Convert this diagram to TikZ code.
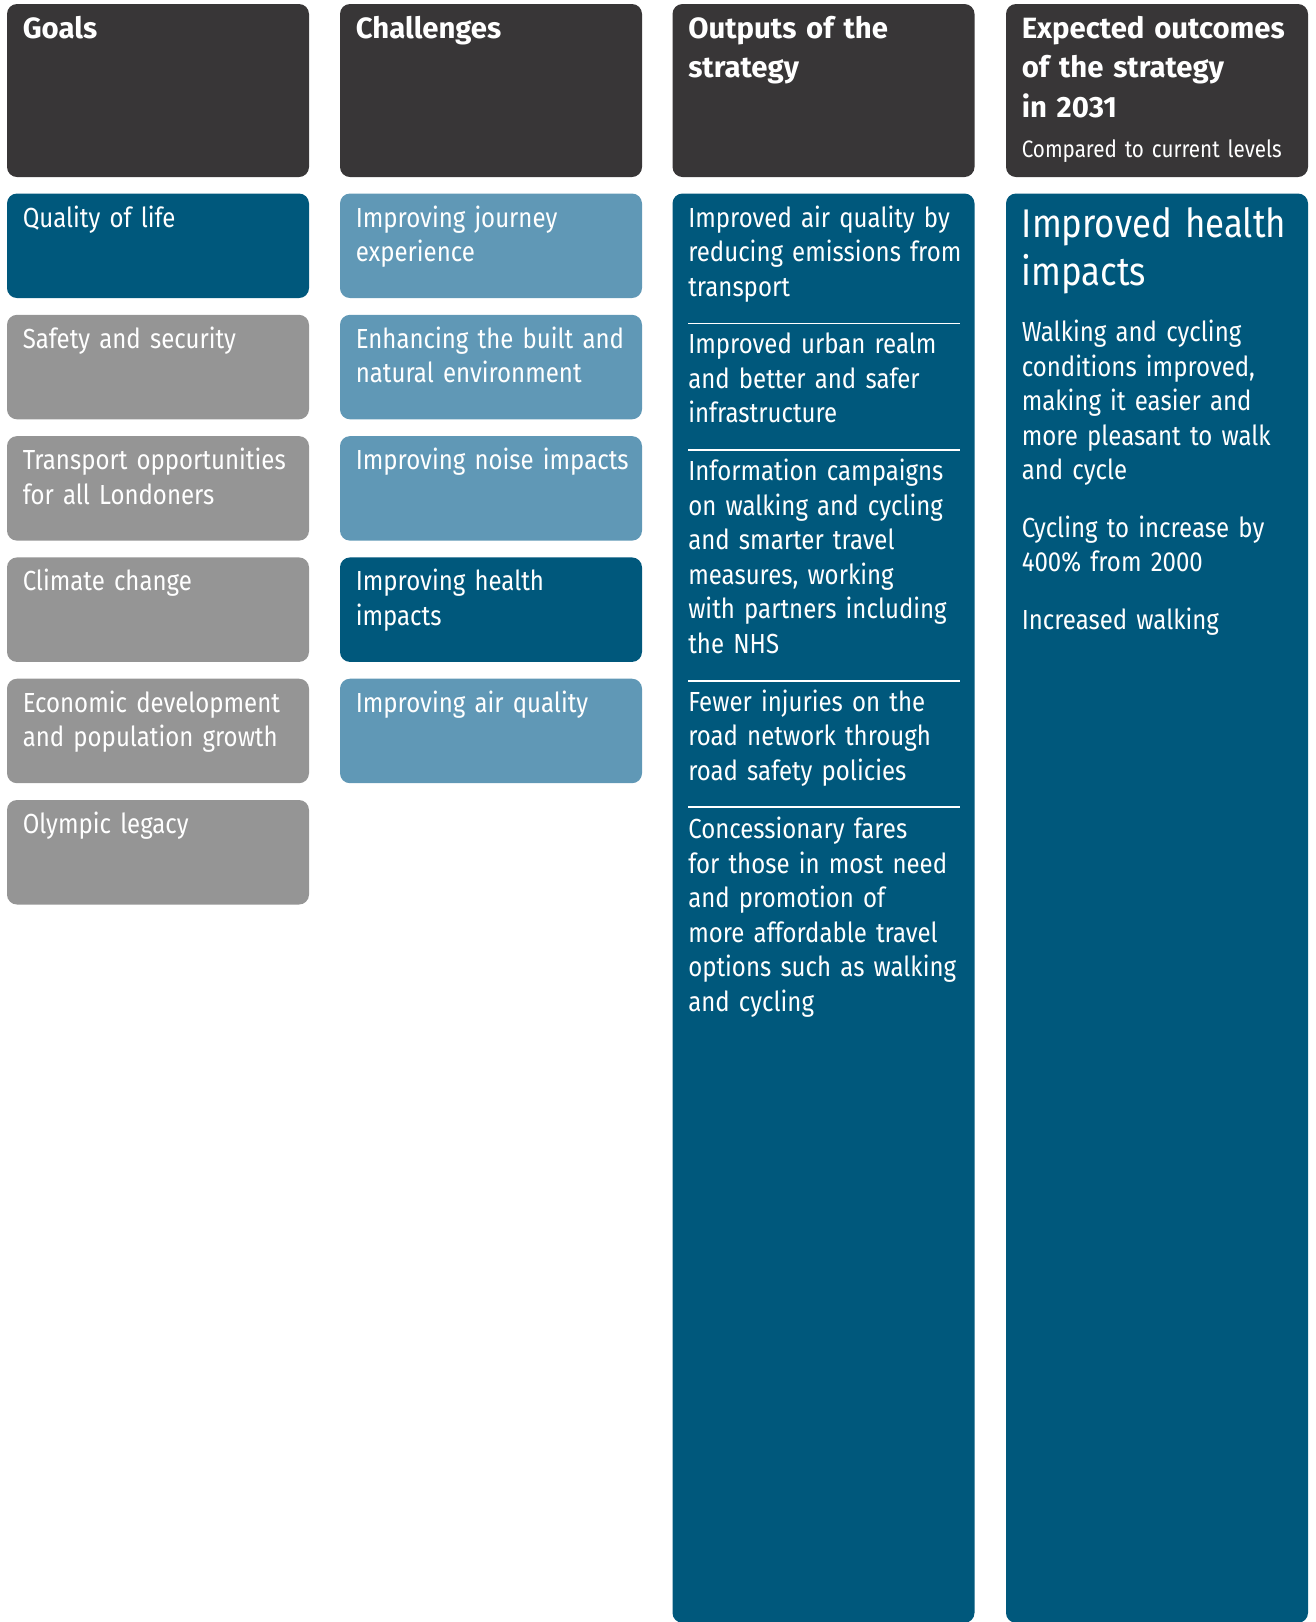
\documentclass[tikz,border=0pt]{standalone}
\usepackage{fontspec}
\setmainfont{Fira Sans}[FakeStretch=0.87]
\newfontfamily\headfont{Fira Sans}
\newfontfamily\bigfont{Fira Sans}[FakeStretch=0.87]
\usepackage{xcolor}
\usepackage{tikz}
\usetikzlibrary{positioning}
\definecolor{headgrey}{RGB}{56,54,55}
\definecolor{tfldark}{RGB}{0,88,124}
\definecolor{tfllight}{RGB}{96,152,182}
\definecolor{goalgrey}{RGB}{149,149,149}

\begin{document}
\begin{tikzpicture}[
  x=0.75pt, y=-0.75pt,
  panel/.style={anchor=north west, inner sep=0pt, outer sep=0pt,
    rounded corners=7.5pt, minimum width=226.5pt},
  head/.style={panel, fill=headgrey, minimum height=129.75pt},
  cell/.style={panel, minimum height=78.4pt},
  column/.style={panel, fill=tfldark, minimum height=1072pt},
  txt/.style={anchor=base west, inner sep=0pt, align=left, text width=260pt,
    text=white, font=\fontsize{20.7}{25.9}\selectfont},
  htxt/.style={txt, font=\headfont\bfseries\fontsize{22}{29.6}\selectfont},
  bigtxt/.style={txt, font=\bigfont\fontsize{30}{36}\selectfont},
  rule/.style={white, line width=1.1pt},
]
\useasboundingbox (0,0) rectangle (1316,1622);

% header row
\node[head] (hgoals) at (7,4) {};
\node[head] (hchal) at (340,4) {};
\node[head] (hout) at (672.5,4) {};
\node[head] (hexp) at (1006,4) {};
\node[htxt] (tgoals) at (22.5,38.5) {Goals};
\node[htxt] (tchal) at (355.5,38.5) {Challenges};
\node[htxt] (tout) at (688,38.5) {Outputs of the\\strategy};
\node[htxt] (texp) at (1021.5,38.5) {Expected outcomes\\of the strategy\\in 2031};
\node[txt, font=\fontsize{17.8}{24}\selectfont] (tcomp) at (1021.5,157) {Compared to current levels};

% goals
\node[cell, fill=tfldark] (g1) at (7,193.5) {};
\node[cell, fill=goalgrey] (g2) at (7,314.8) {};
\node[cell, fill=goalgrey] (g3) at (7,436.1) {};
\node[cell, fill=goalgrey] (g4) at (7,557.4) {};
\node[cell, fill=goalgrey] (g5) at (7,678.7) {};
\node[cell, fill=goalgrey] (g6) at (7,800) {};
\node[txt] at (22.5,227) {Quality of life};
\node[txt] at (22.5,348.3) {Safety and security};
\node[txt] at (22.5,469.6) {Transport opportunities\\for all Londoners};
\node[txt] at (22.5,590.9) {Climate change};
\node[txt] at (22.5,712.2) {Economic development\\and population growth};
\node[txt] at (22.5,833.5) {Olympic legacy};

% challenges
\node[cell, fill=tfllight] (c1) at (340,193.5) {};
\node[cell, fill=tfllight] (c2) at (340,314.8) {};
\node[cell, fill=tfllight] (c3) at (340,436.1) {};
\node[cell, fill=tfldark] (c4) at (340,557.4) {};
\node[cell, fill=tfllight] (c5) at (340,678.7) {};
\node[txt] at (355.5,227) {Improving journey\\experience};
\node[txt] at (355.5,348.3) {Enhancing the built and\\natural environment};
\node[txt] at (355.5,469.6) {Improving noise impacts};
\node[txt] at (355.5,590.9) {Improving health\\impacts};
\node[txt] at (355.5,712.2) {Improving air quality};

% outputs
\node[column] (outcol) at (672.5,193.5) {};
\node[txt] (o1) at (688,227) {Improved air quality by\\reducing emissions from\\transport};
\draw[rule] (688,323.5) -- (960,323.5);
\node[txt] (o2) at (688,353.5) {Improved urban realm\\and better and safer\\infrastructure};
\draw[rule] (688,450) -- (960,450);
\node[txt] (o3) at (688,480.5) {Information campaigns\\on walking and cycling\\and smarter travel\\measures, working\\with partners including\\the NHS};
\draw[rule] (688,681) -- (960,681);
\node[txt] (o4) at (688,711) {Fewer injuries on the\\road network through\\road safety policies};
\draw[rule] (688,807) -- (960,807);
\node[txt] (o5) at (688,838.5) {Concessionary fares\\for those in most need\\and promotion of\\more affordable travel\\options such as walking\\and cycling};

% expected outcomes
\node[column] (expcol) at (1006,193.5) {};
\node[bigtxt] (e0) at (1021.5,237) {Improved health\\impacts};
\node[txt] (e1) at (1021.5,341.8) {Walking and cycling\\conditions improved,\\making it easier and\\more pleasant to walk\\and cycle};
\node[txt] (e2) at (1021.5,537.4) {Cycling to increase by\\400\% from 2000};
\node[txt] (e3) at (1021.5,629.5) {Increased walking};
\end{tikzpicture}
\end{document}
